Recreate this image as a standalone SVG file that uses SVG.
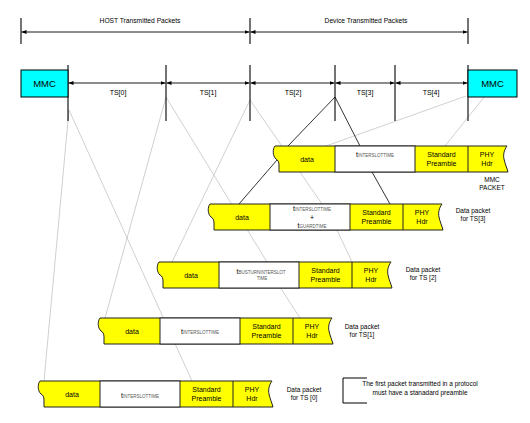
<svg xmlns="http://www.w3.org/2000/svg" width="530" height="423" viewBox="0 0 530 423">
<style>
text{font-family:"Liberation Sans",Arial,sans-serif;fill:#000}
.hdr{font-size:6.7px}
.ts{font-size:7px}
.mmc{font-size:9.5px}
.cell{font-size:7px;text-anchor:middle}
.sub{font-size:4.5px;fill:#555}
.lbl{font-size:6.5px;text-anchor:middle}
.tick{stroke:#000;stroke-width:1.1}
.dim{stroke:#000;stroke-width:0.9;marker-start:url(#ah);marker-end:url(#ah)}
.g{stroke:#c4c4c4;stroke-width:0.8;fill:none}
.d{stroke:#000;stroke-width:0.8;fill:none}
.pk{fill:#ffff00;stroke:#222;stroke-width:1}
.wc{fill:#fff;stroke:#222;stroke-width:1}
.dv{stroke:#222;stroke-width:1}
.box{fill:#00ffff;stroke:#000;stroke-width:1}
</style>
<defs>
<marker id="ah" viewBox="0 0 5 4" refX="5" refY="2" markerWidth="5" markerHeight="4" markerUnits="userSpaceOnUse" orient="auto-start-reverse">
<path d="M0,0 L5,2 L0,4 z" fill="#000"/>
</marker>
<path id="shape" d="M2,0 L234,0 C231,4 230,9 231,13 C232,18 234,22 235,26 L6,26 L6,19 C6,16 5,14 3,13 C-0.5,10 -0.5,3 2,0 Z"/>
</defs>

<g id="connectors">
<line class="g" x1="69" y1="110" x2="44" y2="381"/>
<line class="g" x1="69" y1="110" x2="192" y2="381"/>
<line class="g" x1="166" y1="97" x2="105" y2="318"/>
<line class="g" x1="166" y1="97" x2="267" y2="262"/>
<line class="g" x1="250" y1="100" x2="172" y2="262"/>
<line class="g" x1="250" y1="100" x2="322" y2="204"/>
<line class="g" x1="466" y1="96" x2="326" y2="146"/>
<line class="g" x1="485" y1="96" x2="445" y2="146"/>
<line class="g" x1="337" y1="230" x2="352" y2="262"/>
<line class="g" x1="280" y1="287" x2="300" y2="318"/>
<line class="d" x1="335" y1="97" x2="288" y2="146"/>
<line class="d" x1="335" y1="97" x2="360" y2="146"/>
<line class="d" x1="277" y1="160" x2="239" y2="204"/>
<line class="d" x1="372" y1="172" x2="390" y2="204"/>
</g>

<g id="header">
<line class="tick" x1="21" y1="18" x2="21" y2="44"/>
<line class="tick" x1="250" y1="18" x2="250" y2="44"/>
<line class="tick" x1="468" y1="18" x2="468" y2="44"/>
<line class="dim" x1="21.5" y1="32" x2="249.5" y2="32"/>
<line class="dim" x1="250.5" y1="32" x2="467.5" y2="32"/>
<text class="hdr" x="140" y="22.5" text-anchor="middle">HOST Transmitted Packets</text>
<text class="hdr" x="366" y="22.5" text-anchor="middle">Device Transmitted Packets</text>
</g>

<g id="timeslots">
<line class="tick" x1="68" y1="65" x2="68" y2="121"/>
<line class="tick" x1="166" y1="65" x2="166" y2="121"/>
<line class="tick" x1="250" y1="65" x2="250" y2="121"/>
<line class="tick" x1="335" y1="65" x2="335" y2="121"/>
<line class="tick" x1="395" y1="65" x2="395" y2="121"/>
<line class="tick" x1="468" y1="65" x2="468" y2="121"/>
<line class="dim" x1="68.5" y1="83" x2="165.5" y2="83"/>
<line class="dim" x1="166.5" y1="83" x2="249.5" y2="83"/>
<line class="dim" x1="250.5" y1="83" x2="334.5" y2="83"/>
<line class="dim" x1="335.5" y1="83" x2="394.5" y2="83"/>
<line class="dim" x1="395.5" y1="83" x2="467.5" y2="83"/>
<text class="ts" x="118" y="95" text-anchor="middle">TS[0]</text>
<text class="ts" x="208" y="95" text-anchor="middle">TS[1]</text>
<text class="ts" x="293" y="95" text-anchor="middle">TS[2]</text>
<text class="ts" x="365" y="95" text-anchor="middle">TS[3]</text>
<text class="ts" x="431" y="95" text-anchor="middle">TS[4]</text>
</g>

<g id="mmc-left">
<rect class="box" x="21" y="70" width="47" height="27"/>
<text class="mmc" x="44.5" y="87" text-anchor="middle">MMC</text>
</g>
<g id="mmc-right">
<rect class="box" x="468" y="70" width="49" height="27"/>
<text class="mmc" x="492.5" y="87" text-anchor="middle">MMC</text>
</g>

<g id="packet-mmc" transform="translate(273,146)">
<use href="#shape" class="pk"/>
<rect class="wc" x="62" y="0" width="80" height="26"/>
<line class="dv" x1="195" y1="0" x2="195" y2="26"/>
<text class="cell" x="34" y="16">data</text>
<text class="cell" x="102" y="11">t<tspan class="sub">INTERSLOTTIME</tspan></text>
<text class="cell" x="168.5" y="11">Standard</text>
<text class="cell" x="168.5" y="19.5">Preamble</text>
<text class="cell" x="214" y="11">PHY</text>
<text class="cell" x="214" y="19.5">Hdr</text>
<text class="lbl" x="219" y="36">MMC</text>
<text class="lbl" x="219" y="43.5">PACKET</text>
</g>

<g id="packet-ts3" transform="translate(208,204)">
<use href="#shape" class="pk"/>
<rect class="wc" x="62" y="0" width="80" height="26"/>
<line class="dv" x1="195" y1="0" x2="195" y2="26"/>
<text class="cell" x="34" y="16">data</text>
<text class="cell" x="104" y="7">t<tspan class="sub">INTERSLOTTIME</tspan></text>
<text class="cell" x="104" y="16">+</text>
<text class="cell" x="104" y="24">t<tspan class="sub">GUARDTIME</tspan></text>
<text class="cell" x="168.5" y="11">Standard</text>
<text class="cell" x="168.5" y="19.5">Preamble</text>
<text class="cell" x="214" y="11">PHY</text>
<text class="cell" x="214" y="19.5">Hdr</text>
<text class="lbl" x="265" y="9">Data packet</text>
<text class="lbl" x="265" y="17">for TS[3]</text>
</g>

<g id="packet-ts2" transform="translate(157,262)">
<use href="#shape" class="pk"/>
<rect class="wc" x="62" y="0" width="80" height="26"/>
<line class="dv" x1="195" y1="0" x2="195" y2="26"/>
<text class="cell" x="34" y="16">data</text>
<text class="cell" x="104" y="12">t<tspan class="sub">BUSTURNINTERSLOT</tspan></text>
<text class="cell sub" x="105" y="18">TIME</text>
<text class="cell" x="168.5" y="11">Standard</text>
<text class="cell" x="168.5" y="19.5">Preamble</text>
<text class="cell" x="214" y="11">PHY</text>
<text class="cell" x="214" y="19.5">Hdr</text>
<text class="lbl" x="266" y="10">Data packet</text>
<text class="lbl" x="266" y="18">for TS [2]</text>
</g>

<g id="packet-ts1" transform="translate(98,318)">
<use href="#shape" class="pk"/>
<rect class="wc" x="62" y="0" width="80" height="26"/>
<line class="dv" x1="195" y1="0" x2="195" y2="26"/>
<text class="cell" x="34" y="16">data</text>
<text class="cell" x="102" y="16">t<tspan class="sub">INTERSLOTTIME</tspan></text>
<text class="cell" x="168.5" y="11">Standard</text>
<text class="cell" x="168.5" y="19.5">Preamble</text>
<text class="cell" x="214" y="11">PHY</text>
<text class="cell" x="214" y="19.5">Hdr</text>
<text class="lbl" x="264" y="11">Data packet</text>
<text class="lbl" x="264" y="19">for TS[1]</text>
</g>

<g id="packet-ts0" transform="translate(38,381)">
<use href="#shape" class="pk"/>
<rect class="wc" x="62" y="0" width="80" height="26"/>
<line class="dv" x1="195" y1="0" x2="195" y2="26"/>
<text class="cell" x="34" y="16">data</text>
<text class="cell" x="102" y="17">t<tspan class="sub">INTERSLOTTIME</tspan></text>
<text class="cell" x="168.5" y="11">Standard</text>
<text class="cell" x="168.5" y="19.5">Preamble</text>
<text class="cell" x="214" y="11">PHY</text>
<text class="cell" x="214" y="19.5">Hdr</text>
<text class="lbl" x="266" y="11">Data packet</text>
<text class="lbl" x="266" y="19">for TS [0]</text>
</g>

<g id="note">
<path d="M367,378 H343 V403 H367" fill="none" stroke="#000" stroke-width="1"/>
<text class="lbl" x="420" y="386">The first packet transmitted in a protocol</text>
<text class="lbl" x="420" y="395">must have a stanadard preamble</text>
</g>
</svg>
